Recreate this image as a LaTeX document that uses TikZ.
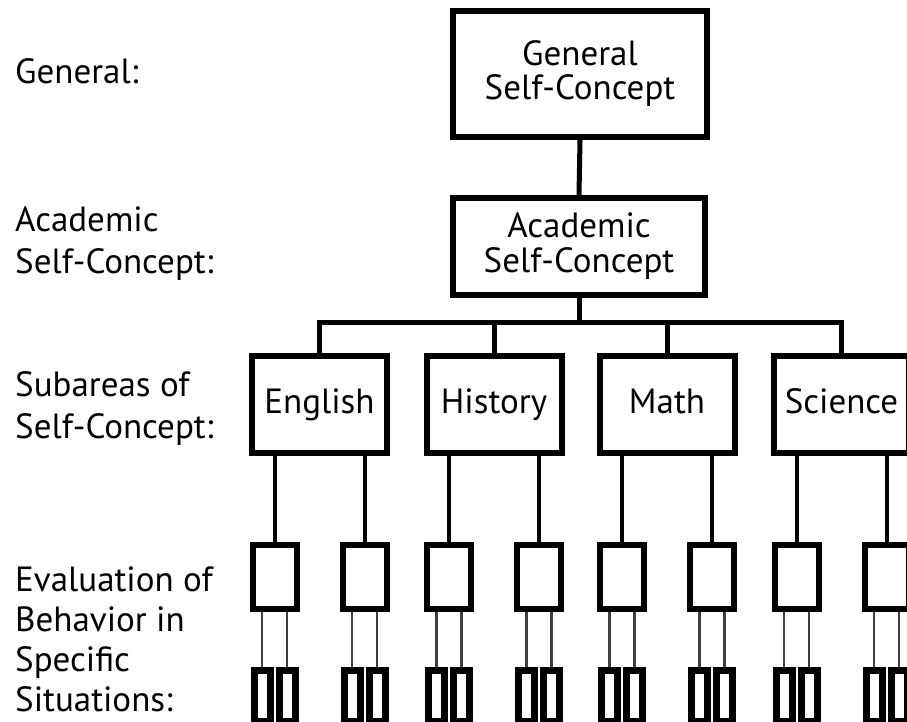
\documentclass[tikz,border=0pt]{standalone}
\usepackage{fontspec}
\setmainfont{PT Sans}
\begin{document}
\begin{tikzpicture}[x=1pt,y=-1pt,
  lbl/.style={font=\fontsize{35}{41.5}\selectfont, align=left, inner sep=0pt, anchor=base west},
  bigbox/.style={draw, line width=6pt, inner sep=0pt, rectangle, align=center},
  midbox/.style={draw, line width=6pt, inner sep=0pt, rectangle, minimum width=44pt, minimum height=64pt},
  tinybox/.style={draw, line width=7pt, inner sep=0pt, rectangle, minimum width=16pt, minimum height=51pt},
  mainline/.style={line width=5pt},
  midline/.style={line width=4pt},
  thinline/.style={line width=2.5pt, black!75}]
\useasboundingbox (0,0) rectangle (907,721);
\clip (0,0) rectangle (907,721);
% left labels (anchored at the baseline of their last line)
\node[lbl] (lg) at (15,83) {General:};
\node[lbl] (la) at (15,273) {Academic\\Self-Concept:};
\node[lbl] (ls) at (15,438) {Subareas of\\Self-Concept:};
\node[lbl, font=\fontsize{35}{40}\selectfont] (le) at (15,711) {Evaluation of\\Behavior in\\Specific\\Situations:};
% top boxes
\node[bigbox, minimum width=254pt, minimum height=126pt, font=\fontsize{35}{34}\selectfont] (gen) at (580,74) {General\\Self-Concept};
\node[bigbox, minimum width=252pt, minimum height=97pt, font=\fontsize{35}{35}\selectfont] (acad) at (579,246.5) {Academic\\Self-Concept};
\draw[mainline] (gen.south) -- (acad.north);
% subject boxes
\foreach \n/\c/\t in {eng/319.5/English, hist/494/History, math/667/Math, sci/841.5/Science}{
  \node[bigbox, minimum width=135pt, minimum height=97pt, font=\fontsize{35}{36}\selectfont, text height=25pt, text depth=8pt] (\n) at (\c,404.5) {\t};
  \node[midbox] (\n1) at (\c-45,577) {};
  \node[midbox] (\n2) at (\c+45,577) {};
  \draw[midline] (\n1.north) -- (\n1.north |- \n.south);
  \draw[midline] (\n2.north) -- (\n2.north |- \n.south);
  \foreach \m in {1,2}{
    \node[tinybox] (\n\m a) at ([xshift=-12.5pt]\n\m.center |- 0,695.5) {};
    \node[tinybox] (\n\m b) at ([xshift=12.5pt]\n\m.center |- 0,695.5) {};
    \draw[thinline] (\n\m a.north) -- (\n\m a.north |- \n\m.south);
    \draw[thinline] (\n\m b.north) -- (\n\m b.north |- \n\m.south);
  }
}
\coordinate (bus) at (580,322);
\draw[mainline] (acad.south) -- (acad.south |- bus);
\draw[mainline] (eng.north) -- (eng.north |- bus) -| (sci.north);
\draw[mainline] (hist.north) -- (hist.north |- bus);
\draw[mainline] (math.north) -- (math.north |- bus);
\end{tikzpicture}
\end{document}
